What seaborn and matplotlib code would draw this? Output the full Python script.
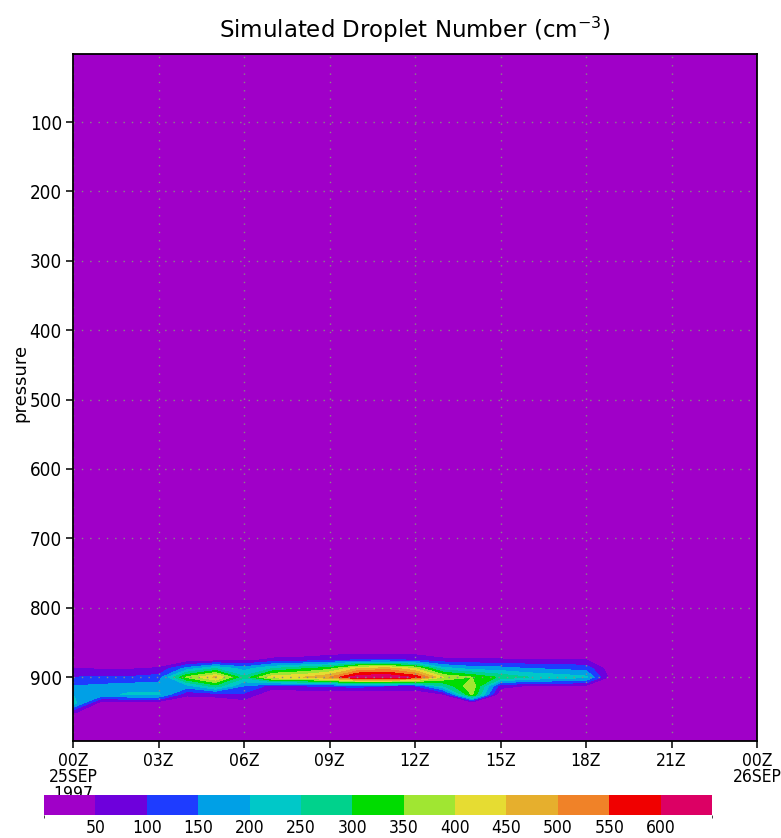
import numpy as np
import matplotlib
matplotlib.use("Agg")
import matplotlib.pyplot as plt
from matplotlib.colors import ListedColormap, BoundaryNorm
import matplotlib.cm as cm
import seaborn as sns

# time axis (hours from 00Z 25SEP1997) and pressure levels (hPa)
hours = [0, 1, 2, 3, 4, 5, 6, 7, 8, 9, 10, 11, 12, 13, 14, 15, 16, 17, 18, 19, 20, 21, 22, 23, 24]
pressure = [0, 850, 862.5, 875, 887.5, 900, 912.5, 925, 937.5, 950, 962.5, 1000]

# simulated droplet number (cm-3), one row per pressure level
p0000 = [0, 0, 0, 0, 0, 0, 0, 0, 0, 0, 0, 0, 0, 0, 0, 0, 0, 0, 0, 0, 0, 0, 0, 0, 0]
p0850 = [0, 0, 0, 0, 0, 0, 0, 0, 0, 0, 0, 0, 0, 0, 0, 0, 0, 0, 0, 0, 0, 0, 0, 0, 0]
p0862 = [0, 0, 0, 0, 0, 0, 0, 10, 15, 20, 25, 25, 20, 10, 5, 5, 0, 0, 0, 0, 0, 0, 0, 0, 0]
p0875 = [0, 0, 0, 0, 10, 20, 30, 60, 65, 80, 100, 100, 90, 60, 55, 55, 50, 50, 50, 0, 0, 0, 0, 0, 0]
p0887 = [50, 45, 45, 55, 170, 250, 180, 250, 290, 330, 450, 480, 400, 220, 180, 170, 150, 140, 130, 0, 0, 0, 0, 0, 0]
p0900 = [100, 105, 105, 120, 360, 460, 260, 430, 445, 500, 640, 650, 590, 400, 350, 290, 250, 230, 210, 0, 0, 0, 0, 0, 0]
p0912 = [150, 160, 170, 170, 180, 280, 150, 80, 100, 110, 120, 100, 100, 250, 390, 70, 45, 45, 40, 0, 0, 0, 0, 0, 0]
p0925 = [200, 180, 210, 210, 60, 70, 90, 0, 0, 0, 0, 0, 0, 40, 360, 0, 0, 0, 0, 0, 0, 0, 0, 0, 0]
p0937 = [230, 10, 10, 10, 0, 0, 20, 0, 0, 0, 0, 0, 0, 0, 0, 0, 0, 0, 0, 0, 0, 0, 0, 0, 0]
p0950 = [60, 0, 0, 0, 0, 0, 0, 0, 0, 0, 0, 0, 0, 0, 0, 0, 0, 0, 0, 0, 0, 0, 0, 0, 0]
p0962 = [0, 0, 0, 0, 0, 0, 0, 0, 0, 0, 0, 0, 0, 0, 0, 0, 0, 0, 0, 0, 0, 0, 0, 0, 0]
p1000 = [0, 0, 0, 0, 0, 0, 0, 0, 0, 0, 0, 0, 0, 0, 0, 0, 0, 0, 0, 0, 0, 0, 0, 0, 0]

droplets = np.array([p0000, p0850, p0862, p0875, p0887, p0900, p0912,
                     p0925, p0937, p0950, p0962, p1000])

levels = [0, 50, 100, 150, 200, 250, 300, 350, 400, 450, 500, 550, 600, 1000]
cbar_bounds = [0, 50, 100, 150, 200, 250, 300, 350, 400, 450, 500, 550, 600, 650]
cbar_ticks = [50, 100, 150, 200, 250, 300, 350, 400, 450, 500, 550, 600]
shade_colors = ["#a000c8", "#6e00dc", "#1e3cff", "#00a0e6", "#00c8c8", "#00d28c", "#00dc00",
                "#a0e632", "#e6dc32", "#e6af2d", "#f08228", "#f00000", "#dc0064"]

time_ticks = [0, 3, 6, 9, 12, 15, 18, 21, 24]
time_labels = ["00Z\n25SEP\n1997", "03Z", "06Z", "09Z", "12Z", "15Z", "18Z", "21Z", "00Z\n26SEP"]
pressure_ticks = [100, 200, 300, 400, 500, 600, 700, 800, 900]

sns.set_style("ticks")
plt.rcParams["font.family"] = ["DejaVu Sans"]
plt.rcParams["font.stretch"] = "condensed"
plt.rcParams["mathtext.default"] = "regular"

palette = sns.color_palette(shade_colors)

fig = plt.figure(figsize=(7.81, 8.38), dpi=100)
ax = fig.add_axes([73 / 781, 1 - 741 / 838, 684 / 781, 687 / 838])

ax.contourf(hours, pressure, droplets, levels=levels, colors=palette, zorder=0)

ax.set_xlim(0, 24)
ax.set_ylim(992, 2)
ax.set_xticks(time_ticks, time_labels)
ax.set_yticks(pressure_ticks)
ax.grid(True, color="#888888", linestyle=(0, (1, 5)), linewidth=1.0)
ax.set_axisbelow(False)
ax.tick_params(direction="out", length=5, width=1.1, pad=3, colors="black")
ax.tick_params(axis="y", labelsize=13.5)
ax.tick_params(axis="x", labelsize=12.5)
for lbl in ax.get_xticklabels():
    lbl.set_linespacing(0.88)
for s in ax.spines.values():
    s.set_linewidth(1.3)
    s.set_color("black")
    s.set_zorder(3)

fig.text(415 / 781, 1 - 30 / 838, "Simulated Droplet Number (cm$^{-3}$)",
         ha="center", va="center", fontsize=16.5, color="black", fontstretch="normal")
fig.text(20 / 781, 1 - 383 / 838, "pressure", rotation=90, ha="center", va="center",
         fontsize=13, color="black", fontstretch="normal")

# colour bar underneath, on top of the date labels
cax = fig.add_axes([44 / 781, 1 - 815 / 838, 668 / 781, 20 / 838])
cax.set_zorder(5)
sm = cm.ScalarMappable(cmap=ListedColormap(shade_colors), norm=BoundaryNorm(cbar_bounds, 13))
cb = fig.colorbar(sm, cax=cax, orientation="horizontal", ticks=cbar_ticks)
cb.outline.set_visible(False)
cax.tick_params(length=0, pad=3, labelsize=12.5, colors="black")

fig.savefig("out.png", dpi=100)
